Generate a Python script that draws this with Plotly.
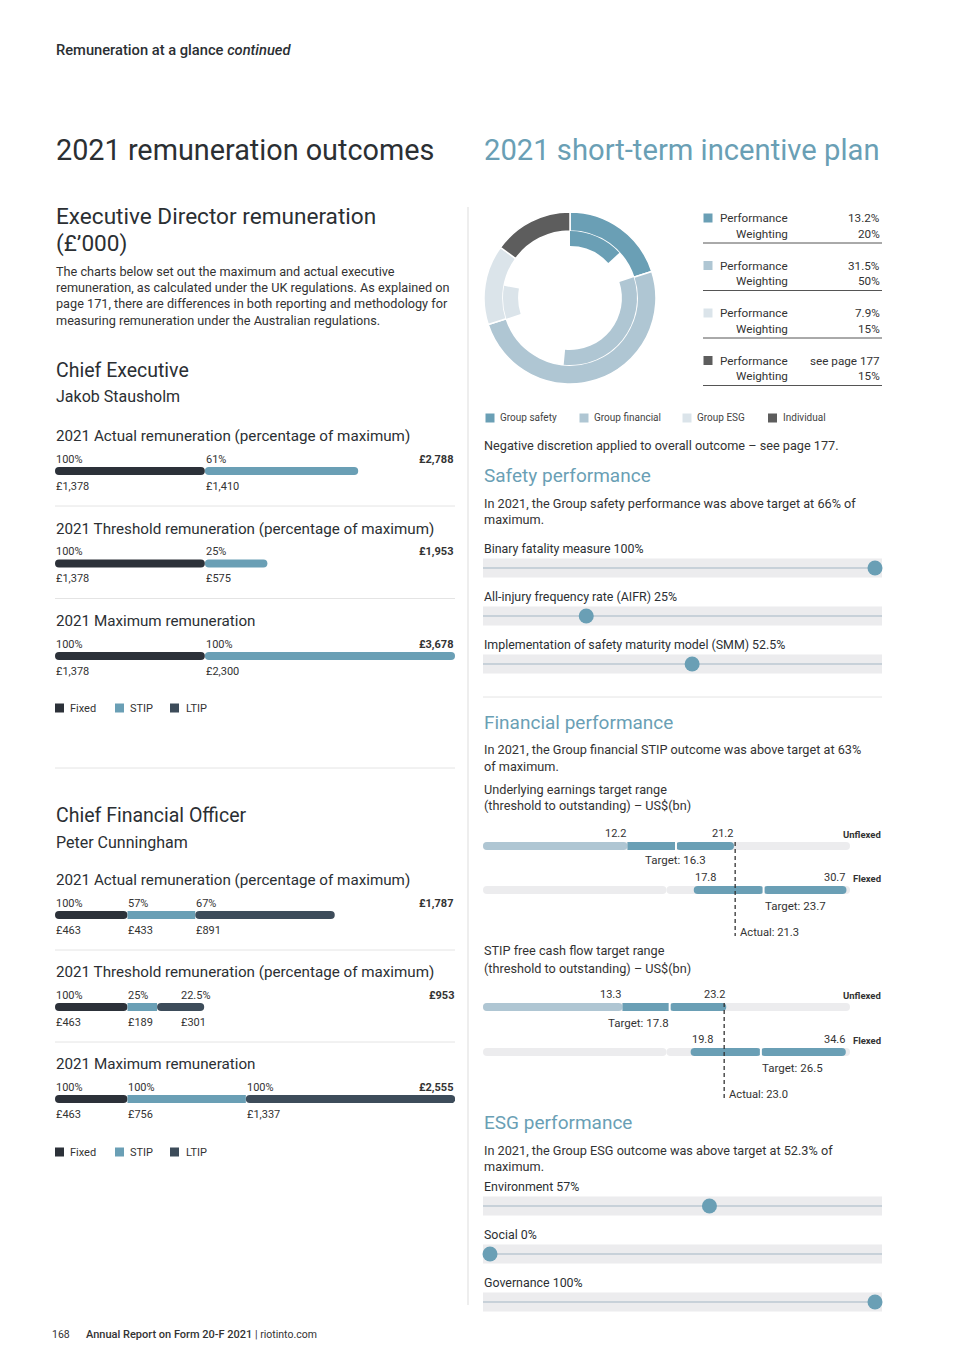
import plotly.graph_objects as go

# page body has an 8px default margin, so the figure is placed at (8, 8)
OFF = 8
FW, FH = 965 - 2 * OFF, 1365 - 2 * OFF
def px(x): return (x - OFF) / FW
def py(y): return 1 - (y - OFF) / FH

FONT = "Roboto"
DARK = "#2b2f33"
TEXT = "#333333"
TEAL = "#6a9fb5"
LIGHTBLUE = "#afc6d3"
PALE = "#dbe4ea"
INDIV = "#5d5d5d"
FIXED_C = "#2c3139"
LTIP_C = "#3d4c5a"
TRACK = "#ececee"
SEP = "#e4e4e4"

# ---------------- data ----------------
rem_chart_titles = ["2021 Actual remuneration (percentage of maximum)",
                    "2021 Threshold remuneration (percentage of maximum)",
                    "2021 Maximum remuneration"]
rem_components = ["Fixed", "STIP", "LTIP"]

ceo_name = "Jakob Stausholm"
ceo_fixed = [1378, 1378, 1378]
ceo_stip = [1410, 575, 2300]
ceo_total = [2788, 1953, 3678]
ceo_fixed_pct = ["100%", "100%", "100%"]
ceo_stip_pct = ["61%", "25%", "100%"]

cfo_name = "Peter Cunningham"
cfo_fixed = [463, 463, 463]
cfo_stip = [433, 189, 756]
cfo_ltip = [891, 301, 1337]
cfo_total = [1787, 953, 2555]
cfo_fixed_pct = ["100%", "100%", "100%"]
cfo_stip_pct = ["57%", "25%", "100%"]
cfo_ltip_pct = ["67%", "22.5%", "100%"]

stip_components = ["Group safety", "Group financial", "Group ESG", "Individual"]
stip_weighting = [20, 50, 15, 15]
stip_performance = [13.2, 31.5, 7.9, None]
stip_perf_text = ["13.2%", "31.5%", "7.9%", "see page 177"]

safety_measures = ["Binary fatality measure", "All-injury frequency rate (AIFR)",
                   "Implementation of safety maturity model (SMM)"]
safety_scores = [100, 25, 52.5]

esg_measures = ["Environment", "Social", "Governance"]
esg_scores = [57, 0, 100]

range_rows = ["Unflexed", "Flexed"]
earn_threshold = [12.2, 17.8]
earn_target = [16.3, 23.7]
earn_outstanding = [21.2, 30.7]
earn_actual = 21.3

fcf_threshold = [13.3, 19.8]
fcf_target = [17.8, 26.5]
fcf_outstanding = [23.2, 34.6]
fcf_actual = 23.0

STIP_COLORS = [TEAL, LIGHTBLUE, PALE, INDIV]
REM_COLORS = [FIXED_C, TEAL, LTIP_C]

# ---------------- helpers ----------------
traces, anns, shapes, axes = [], [], [], {}

def axname(i):
    return "" if i == 1 else str(i)

def add_axes(i, x0, x1, xr, y0, y1, yr):
    n = axname(i)
    axes["xaxis" + n] = dict(domain=[px(x0), px(x1)], range=xr, anchor="y" + n,
                             visible=False, fixedrange=True)
    axes["yaxis" + n] = dict(domain=[py(y1), py(y0)], range=yr, anchor="x" + n,
                             visible=False, fixedrange=True)

def A(x, y, text, size=12, color=TEXT, xanchor="left", xref="paper", yref="paper",
      yshift=0, xshift=0, weight=None):
    if xref == "paper":
        x = px(x)
    if yref == "paper":
        y = py(y)
    font = dict(family=FONT, size=size, color=color)
    if weight:
        font["weight"] = weight
    anns.append(dict(x=x, y=y, xref=xref, yref=yref, text=text, showarrow=False,
                     xanchor=xanchor, yanchor="middle", yshift=yshift, xshift=xshift,
                     font=font, borderpad=0))

def L(x0, y0, x1, y1, color=SEP, width=1):
    shapes.append(dict(type="line", xref="paper", yref="paper", x0=px(x0), y0=py(y0),
                       x1=px(x1), y1=py(y1), line=dict(color=color, width=width)))

def SQ(cx, cy, s, color):
    shapes.append(dict(type="rect", xref="paper", yref="paper",
                       x0=px(cx - s / 2), x1=px(cx + s / 2), y0=py(cy + s / 2), y1=py(cy - s / 2),
                       fillcolor=color, line_width=0))

# ---------------- remuneration blocks ----------------
REM_X0, REM_X1 = 55, 455
LABEL_GAP = 53  # minimum horizontal spacing (px) between neighbouring labels

def rem_block(i, row0, step, fixed, fixed_pct, segs, seg_pcts, seg_colors, totals):
    n = axname(i)
    nrow = len(fixed)
    xmax = max(totals)
    top, bot = row0 - 45, row0 + (nrow - 1) * step + 30
    add_axes(i, REM_X0, REM_X1, [0, xmax], top, bot,
             [(bot - row0) / step, (top - row0) / step])
    rows = list(range(nrow))
    common = dict(orientation="h", width=8 / step, xaxis="x" + n, yaxis="y" + n,
                  hoverinfo="skip", showlegend=False)
    traces.append(go.Bar(y=rows, x=[-v for v in fixed], base=fixed,
                         marker=dict(color=FIXED_C, cornerradius="50%", line_width=0), **common))
    starts = list(fixed)
    for k, (vals, col) in enumerate(zip(segs, seg_colors)):
        last = k == len(segs) - 1
        traces.append(go.Bar(y=rows, x=vals, base=list(starts),
                             marker=dict(color=col, cornerradius="50%" if last else 0, line_width=0),
                             **common))
        starts = [s + v for s, v in zip(starts, vals)]
    scale = (REM_X1 - REM_X0) / xmax
    for r in rows:
        A(REM_X0, r, rem_chart_titles[r], size=15.2, color=DARK, yref="y" + n, yshift=35)
        A(0, r, fixed_pct[r], size=11, xref="x" + n, yref="y" + n, yshift=12)
        A(0, r, f"£{fixed[r]:,}", size=11, xref="x" + n, yref="y" + n, yshift=-15)
        start = fixed[r]
        prev_px = 0.0
        for vals, pcts in zip(segs, seg_pcts):
            sp = start * scale
            shift = max(0.0, prev_px + LABEL_GAP - sp)
            A(start, r, pcts[r], size=11, xref="x" + n, yref="y" + n, yshift=12, xshift=shift)
            A(start, r, f"£{vals[r]:,}", size=11, xref="x" + n, yref="y" + n, yshift=-15, xshift=shift)
            prev_px = sp + shift
            start += vals[r]
        A(REM_X1, r, f"<b>£{totals[r]:,}</b>", size=11, xanchor="right", yref="y" + n, yshift=12)
        if r < nrow - 1:
            shapes.append(dict(type="line", xref="paper", x0=px(REM_X0), x1=px(REM_X1), yref="y" + n,
                               y0=r + 35 / step, y1=r + 35 / step, line=dict(color=SEP, width=1)))

def rem_legend(y):
    for cx, tx, name, col in zip([59.5, 119.5, 174.5], [69, 129, 185], rem_components, REM_COLORS):
        SQ(cx, y, 9, col)
        A(tx, y, name, size=11)

rem_block(1, 471, 92.5, ceo_fixed, ceo_fixed_pct, [ceo_stip], [ceo_stip_pct], [TEAL], ceo_total)
rem_legend(708)
rem_block(2, 915, 92, cfo_fixed, cfo_fixed_pct, [cfo_stip, cfo_ltip], [cfo_stip_pct, cfo_ltip_pct],
          [TEAL, LTIP_C], cfo_total)
rem_legend(1152)

# ---------------- STIP donut ----------------
traces.append(go.Pie(values=stip_weighting, labels=stip_components, sort=False,
                     direction="clockwise", rotation=0, hole=0.78, textinfo="none",
                     hoverinfo="skip", showlegend=False,
                     marker=dict(colors=STIP_COLORS, line=dict(color="white", width=1.5)),
                     domain=dict(x=[px(484), px(656)], y=[py(384), py(212)])))
inner_vals, inner_cols, inner_labels = [], [], []
for comp, w, p, c in zip(stip_components, stip_weighting, stip_performance, STIP_COLORS):
    p0 = p if p is not None else 0
    inner_vals += [p0, w - p0]
    inner_cols += [c, "rgba(0,0,0,0)"]
    inner_labels += [comp + " performance", comp + " remainder"]
traces.append(go.Pie(values=inner_vals, labels=inner_labels, sort=False,
                     direction="clockwise", rotation=0, hole=0.775, textinfo="none",
                     hoverinfo="skip", showlegend=False,
                     marker=dict(colors=inner_cols, line=dict(color="rgba(0,0,0,0)", width=0)),
                     domain=dict(x=[px(503), px(637)], y=[py(365), py(231)])))

table_y = [218, 265.5, 313, 360.5]
for yv, col, ptxt, w in zip(table_y, STIP_COLORS, stip_perf_text, stip_weighting):
    SQ(708, yv, 9, col)
    A(789, yv, "Performance", size=11.7, xanchor="right")
    A(789, yv + 15.5, "Weighting", size=11.7, xanchor="right")
    A(881, yv, ptxt, size=11.7, xanchor="right")
    A(881, yv + 15.5, f"{w}%", size=11.7, xanchor="right")
    L(703, yv + 25, 882, yv + 25, color="#555555", width=1)

for cx, tx, name, col in zip([490, 584, 687, 772.5], [499, 593, 696, 782], stip_components, STIP_COLORS):
    SQ(cx, 418, 9, col)
    A(tx, 418, name, size=10, color="#444444")

# ---------------- range charts ----------------
def range_block(i, row0, step, thr, tgt, out, actual, scale_max, thr_anc, out_anc, tgt_anc, tgt_shift):
    n = axname(i)
    top, bot = row0 - 25, row0 + step + 60
    add_axes(i, 483, 850, [0, scale_max], top, bot, [(bot - row0) / step, (top - row0) / step])
    rows = [0, 1]
    common = dict(orientation="h", width=8 / step, xaxis="x" + n, yaxis="y" + n,
                  hoverinfo="skip", showlegend=False)
    rnd = dict(cornerradius="50%", line_width=0)
    mid = scale_max / 2
    traces.append(go.Bar(y=rows, x=[mid, mid], base=[mid, mid], marker=dict(color=TRACK, **rnd), **common))
    traces.append(go.Bar(y=rows, x=[-mid, -mid], base=[mid, mid], marker=dict(color=TRACK, **rnd), **common))
    # unflexed: light segment up to threshold
    traces.append(go.Bar(y=[0], x=[-thr[0]], base=[thr[0]], marker=dict(color=LIGHTBLUE, **rnd), **common))
    traces.append(go.Bar(y=[0], x=[tgt[0] - thr[0]], base=[thr[0]],
                         marker=dict(color=TEAL, cornerradius=0, line_width=0), **common))
    traces.append(go.Bar(y=[1], x=[-(tgt[1] - thr[1])], base=[tgt[1]], marker=dict(color=TEAL, **rnd), **common))
    traces.append(go.Bar(y=rows, x=[o - t for o, t in zip(out, tgt)], base=tgt,
                         marker=dict(color=TEAL, **rnd), **common))
    traces.append(go.Scatter(x=tgt, y=rows, mode="markers", xaxis="x" + n, yaxis="y" + n,
                             marker=dict(symbol="line-ns", size=9, line=dict(color="white", width=2)),
                             hoverinfo="skip", showlegend=False, cliponaxis=False))
    traces.append(go.Scatter(x=[actual, actual], y=[-4 / step, (step + 46) / step], mode="lines",
                             xaxis="x" + n, yaxis="y" + n,
                             line=dict(color="#333333", width=1.3, dash="4px,3px"),
                             hoverinfo="skip", showlegend=False, cliponaxis=False))
    for r in rows:
        A(thr[r], r, f"{thr[r]:.1f}", size=11, xanchor=thr_anc[r], xref="x" + n, yref="y" + n, yshift=13)
        A(out[r], r, f"{out[r]:.1f}", size=11, xanchor=out_anc[r], xref="x" + n, yref="y" + n, yshift=13)
        A(tgt[r], r, f"Target: {tgt[r]:.1f}", size=11.5, xanchor=tgt_anc[r], xref="x" + n, yref="y" + n,
          yshift=tgt_shift[r])
        A(882, r, f"<b>{range_rows[r]}</b>", size=9.5, xanchor="right", yref="y" + n, yshift=12)
    A(actual, 1, f"Actual: {actual:.1f}", size=11.2, xref="x" + n, yref="y" + n, yshift=-42, xshift=4)

range_block(3, 846, 44, earn_threshold, earn_target, earn_outstanding, earn_actual, 31.0,
            ["right", "left"], ["right", "right"], ["center", "left"], [-14, -16])
range_block(4, 1007, 45, fcf_threshold, fcf_target, fcf_outstanding, fcf_actual, 35.0,
            ["right", "left"], ["right", "right"], ["right", "left"], [-16, -16])

# ---------------- sliders ----------------
def slider_block(i, row0, step, names, vals):
    n = axname(i)
    r = 7 / ((882 - 483 - 14) / 100)
    top, bot = row0 - 12, row0 + (len(vals) - 1) * step + 12
    add_axes(i, 483, 882, [-r, 100 + r], top, bot, [(bot - row0) / step, (top - row0) / step])
    for k, (name, v) in enumerate(zip(names, vals)):
        shapes.append(dict(type="rect", xref="x" + n + " domain", x0=0, x1=1, yref="y" + n,
                           y0=k - 9.5 / step, y1=k + 9.5 / step, fillcolor=TRACK, line_width=0,
                           layer="below"))
        shapes.append(dict(type="line", xref="x" + n + " domain", x0=0, x1=1, yref="y" + n,
                           y0=k, y1=k, line=dict(color="#a3b6c4", width=1), layer="below"))
        A(483, k, f"{name} {v:g}%", size=12.4, color=DARK, yref="y" + n, yshift=20)
    traces.append(go.Scatter(x=vals, y=list(range(len(vals))), mode="markers",
                             xaxis="x" + n, yaxis="y" + n, marker=dict(size=15, color=TEAL),
                             hoverinfo="skip", showlegend=False, cliponaxis=False))

slider_block(5, 568, 48, safety_measures, safety_scores)
slider_block(6, 1206, 48, esg_measures, esg_scores)

# ---------------- page text ----------------
A(55, 50, "Remuneration at a glance <i>continued</i>", size=14.7, color=DARK, weight=500)
A(55, 150, "2021 remuneration outcomes", size=28.8, color=DARK)
A(483, 150, "2021 short-term incentive plan", size=29.2, color=TEAL)
A(55, 216, "Executive Director remuneration", size=22.6, color=DARK)
A(55, 243, "(£’000)", size=22.6, color=DARK)
para = ["The charts below set out the maximum and actual executive",
        "remuneration, as calculated under the UK regulations. As explained on",
        "page 171, there are differences in both reporting and methodology for",
        "measuring remuneration under the Australian regulations."]
for k, line in enumerate(para):
    A(55, 271 + k * 16.4, line, size=12.7)
A(55, 370, "Chief Executive", size=19.5, color=DARK)
A(55, 396, ceo_name, size=16, color=DARK)
L(55, 768, 455, 768)
A(55, 815, "Chief Financial Officer", size=19.5, color=DARK)
A(55, 842, cfo_name, size=16, color=DARK)

A(483, 446, "Negative discretion applied to overall outcome – see page 177.", size=12.7)
A(483, 476, "Safety performance", size=19, color=TEAL)
A(483, 503, "In 2021, the Group safety performance was above target at 66% of", size=12.7)
A(483, 519, "maximum.", size=12.7)
L(483, 697, 882, 697)
A(483, 722, "Financial performance", size=19, color=TEAL)
A(483, 749, "In 2021, the Group financial STIP outcome was above target at 63%", size=12.7)
A(483, 766, "of maximum.", size=12.7)
A(483, 789, "Underlying earnings target range", size=12.7)
A(483, 805, "(threshold to outstanding) – US$(bn)", size=12.7)
A(483, 951, "STIP free cash flow target range", size=12.7)
A(483, 968, "(threshold to outstanding) – US$(bn)", size=12.7)
A(483, 1122, "ESG performance", size=19, color=TEAL)
A(483, 1150, "In 2021, the Group ESG outcome was above target at 52.3% of", size=12.7)
A(483, 1166, "maximum.", size=12.7)

L(468, 207, 468, 1305, color="#dddddd")

A(51, 1334, "168", size=10.5)
A(85, 1334, "Annual Report on Form 20-F 2021", size=11, weight=500)
A(254, 1334, "| riotinto.com", size=10.5)

fig = go.Figure(data=traces)
fig.update_layout(width=FW, height=FH, margin=dict(l=0, r=0, t=0, b=0),
                  paper_bgcolor="white", plot_bgcolor="rgba(0,0,0,0)",
                  showlegend=False, barmode="overlay",
                  font=dict(family=FONT, color=TEXT),
                  annotations=anns, shapes=shapes, **axes)
fig.write_html("out.html")
